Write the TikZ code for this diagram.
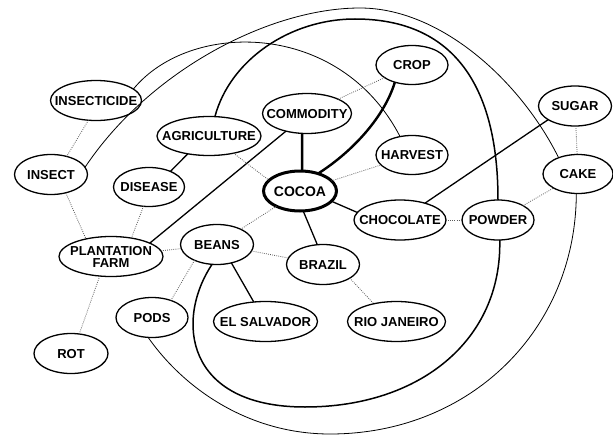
\documentclass[tikz,border=0pt]{standalone}
\usepackage{fontspec}
\newfontfamily\lsans{Liberation Sans}
\usetikzlibrary{shapes.geometric}
\newcommand\tx[1]{\makebox[0pt]{\raisebox{-4.65pt}[0pt][0pt]{#1}}}
\tikzset{
  nd/.style={ellipse, draw, line width=1.3pt, inner sep=0pt, outer sep=0pt,
    font=\lsans\bfseries\fontsize{13}{14}\selectfont},
  sol/.style={line width=1.3pt},
  hvy/.style={line width=2.4pt},
  crv/.style={line width=1.5pt},
  thn/.style={line width=0.8pt},
  dot/.style={line width=0.8pt, draw=black!65, dash pattern=on 0.8pt off 1.3pt}
}
\begin{document}
\begin{tikzpicture}[x=1pt,y=-1pt]
\useasboundingbox (0,0) rectangle (613,436);
\node[nd, minimum width=72pt, minimum height=39pt] (crop) at (412,65) {\tx{CROP}};
\node[nd, minimum width=89pt, minimum height=40pt] (commodity) at (307,113.5) {\tx{COMMODITY}};
\node[nd, minimum width=104pt, minimum height=39pt] (agri) at (209,136) {\tx{AGRICULTURE}};
\node[nd, minimum width=91pt, minimum height=40pt] (insecticide) at (96,100.5) {\tx{INSECTICIDE}};
\node[nd, minimum width=73pt, minimum height=40pt] (insect) at (51,174.5) {\tx{INSECT}};
\node[nd, minimum width=71pt, minimum height=39pt] (disease) at (149,187) {\tx{DISEASE}};
\node[nd, minimum width=72pt, minimum height=39pt] (harvest) at (412,155) {\tx{HARVEST}};
\node[nd, line width=3pt, minimum width=73pt, minimum height=40pt,
  font=\lsans\bfseries\fontsize{14}{15}\selectfont] (cocoa) at (300,191)
  {\makebox[0pt]{\raisebox{-5pt}[0pt][0pt]{COCOA}}};
\node[nd, minimum width=92pt, minimum height=40pt] (chocolate) at (400,220) {\tx{CHOCOLATE}};
\node[nd, minimum width=72pt, minimum height=40pt] (powder) at (498,220) {\tx{POWDER}};
\node[nd, minimum width=73pt, minimum height=40pt] (sugar) at (575,106) {\tx{SUGAR}};
\node[nd, minimum width=70pt, minimum height=39pt] (cake) at (578,174) {\tx{CAKE}};
\node[nd, minimum width=104pt, minimum height=40pt] (pf) at (111,256.5)
  {\makebox[0pt]{\raisebox{1pt}[0pt][0pt]{PLANTATION}}\makebox[0pt]{\raisebox{-10.8pt}[0pt][0pt]{FARM}}};
\node[nd, minimum width=73pt, minimum height=40pt] (beans) at (217,244.5) {\tx{BEANS}};
\node[nd, minimum width=73pt, minimum height=40pt] (brazil) at (323,264.5) {\tx{BRAZIL}};
\node[nd, minimum width=72pt, minimum height=40pt] (pods) at (152,317.5) {\tx{PODS}};
\node[nd, minimum width=104pt, minimum height=40pt] (elsal) at (265.5,321.5) {\tx{EL SALVADOR}};
\node[nd, minimum width=98pt, minimum height=40pt] (rio) at (396.5,321.5) {\tx{RIO JANEIRO}};
\node[nd, minimum width=74pt, minimum height=40pt] (rot) at (71,353.5) {\tx{ROT}};

% long curves
\draw[thn] (insect.12) .. controls (150,70) and (270,8) .. (360,8)
  .. controls (440,8) and (520,80) .. (cake.140);
\draw[crv] (agri.73) .. controls (230,60) and (290,19) .. (355,19)
  .. controls (445,19) and (498,75) .. (powder.north);
\draw[thn] (insecticide.17) .. controls (190,20) and (340,20) .. (harvest.123);
\draw[crv] (beans.-104) .. controls (175,320) and (185,407) .. (305,407)
  .. controls (420,407) and (502,340) .. (powder.-85);
\draw[thn] (pods.-101) .. controls (185,390) and (250,434) .. (330,434)
  .. controls (470,434) and (576,330) .. (cake.-95);

% heavy edges
\draw[hvy] (crop.-135) .. controls (385,115) and (355,150) .. (cocoa.44);
\draw[hvy] (commodity.-104) -- (cocoa.84);

% solid edges
\draw[sol] (commodity.220) -- (pf.19);
\draw[sol] (agri.220) -- (disease.36);
\draw[sol] (cocoa.-81) -- (brazil.106);
\draw[sol] (beans.-52) -- (elsal.121);
\draw[sol] (cocoa.-18) -- (chocolate.170);
\draw[sol] (chocolate.34) -- (sugar.207);

% dotted edges
\draw[dot] (commodity) -- (crop);
\draw[dot] (cocoa) -- (harvest);
\draw[dot] (agri.-35) -- (cocoa.161);
\draw[dot] (insecticide.-111) -- (insect.49);
\draw[dot] (insect.-51) -- (pf.145);
\draw[dot] (disease.-106) -- (pf.42);
\draw[dot] (pf.-120) -- (rot.67);
\draw[dot] (pf) -- (beans);
\draw[dot] (cocoa) -- (beans);
\draw[dot] (beans) -- (brazil);
\draw[dot] (beans.-145) -- (pods.42);
\draw[dot] (brazil.-27) -- (rio.142);
\draw[dot] (chocolate) -- (powder);
\draw[dot] (sugar) -- (cake);
\draw[dot] (powder) -- (cake);
\end{tikzpicture}
\end{document}
